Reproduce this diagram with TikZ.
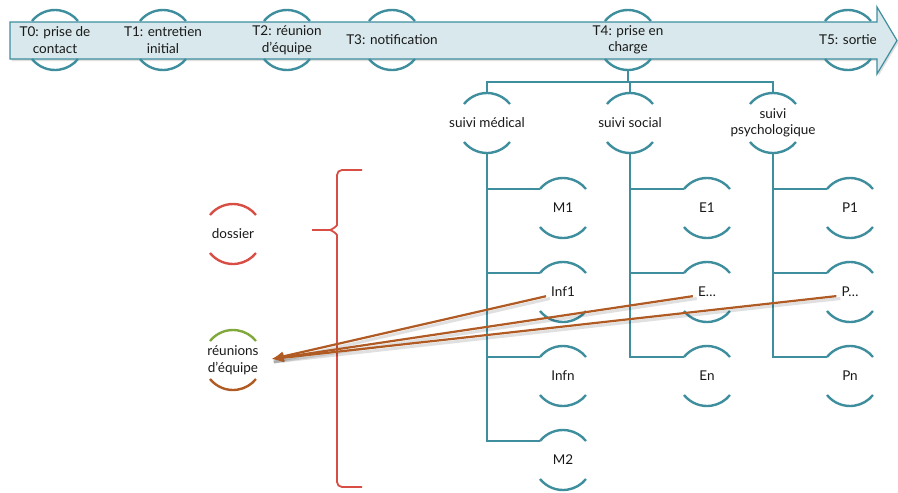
\documentclass[tikz,border=0pt]{standalone}
\usepackage{fontspec}
\setmainfont{Lato}
\usetikzlibrary{arrows.meta,shadows}

\definecolor{tealline}{RGB}{62,142,158}
\definecolor{bandfill}{RGB}{216,232,236}
\definecolor{redline}{RGB}{217,78,68}
\definecolor{greenline}{RGB}{128,168,58}
\definecolor{brownline}{RGB}{176,90,36}
\definecolor{inktext}{RGB}{25,25,25}

% two arcs round a label: top one and bottom one
\newcommand{\arcpair}[3]{%
	\draw[#2] ([shift={(-23,19)}]#1.center) arc[start angle=141.2, end angle=38.8, radius=29.5];
	\draw[#3] ([shift={(-23,-19)}]#1.center) arc[start angle=218.8, end angle=321.2, radius=29.5];
}

\begin{document}
\begin{tikzpicture}[x=1pt, y=1pt, >={Latex[length=12pt,width=10pt]},
	lbl/.style={font=\fontsize{13.5}{16.5}\selectfont, text=inktext, align=center, inner sep=1pt},
	arcline/.style={tealline, line width=2.4pt},
	redarc/.style={redline, line width=2.4pt},
	greenarc/.style={greenline, line width=2.4pt},
	brownarc/.style={brownline, line width=2.4pt},
	tree/.style={tealline, line width=2.4pt},
	band/.style={draw=tealline, fill=bandfill, line width=1.2pt,
		drop shadow={opacity=0.25, shadow xshift=1.5pt, shadow yshift=-2pt}},
	brace/.style={redline, line width=1.8pt, rounded corners=5pt},
	link/.style={->, brownline, line width=2.2pt, shorten <=1pt},
	linkshade/.style={black, opacity=0.12, line width=3pt}]

	\useasboundingbox (0,0) rectangle (898,-493);

	% === TIMELINE === (((
	\draw[band] (10,-22) -- (877,-22) -- (877,-7) -- (897,-40.5) -- (877,-74)
		-- (877,-59) -- (10,-59) -- cycle;
	\foreach \n/\x/\t in {t0/55/{T0: prise de\\contact}, t1/163/{T1: entretien\\initial},
		t2/287/{T2: réunion\\d'équipe}, t3/392/{T3: notification},
		t4/628/{T4: prise en\\charge}, t5/848/{T5: sortie}} {
		\node[lbl] (\n) at (\x,-40) {\t};
		\arcpair{\n}{arcline}{arcline}
	}
	% )))

	% === SUIVI === (((
	\foreach \n/\x/\t in {med/487/{suivi médical}, soc/630/{suivi social},
		psy/773/{suivi\\psychologique}} {
		\node[lbl] (\n) at (\x,-123) {\t};
		\arcpair{\n}{arcline}{arcline}
		\draw[tree] ([yshift=-30]t4.center) -- ++(0,-12) -| ([yshift=30]\n.center);
	}
	% )))

	% === ETAPES === (((
	\foreach \n/\r/\t in {m1/208/M1, inf1/292/Inf1, infn/376/Infn, m2/460/M2} {
		\node[lbl] (\n) at (563,-\r) {\t};
		\arcpair{\n}{arcline}{arcline}
		\draw[tree] ([yshift=-30]med.center) |- ([shift={(-23,19)}]\n.center);
	}
	\foreach \n/\r/\t in {e1/208/E1, edots/292/E…, en/376/En} {
		\node[lbl] (\n) at (707,-\r) {\t};
		\arcpair{\n}{arcline}{arcline}
		\draw[tree] ([yshift=-30]soc.center) |- ([shift={(-23,19)}]\n.center);
	}
	\foreach \n/\r/\t in {p1/208/P1, pdots/292/P…, pn/376/Pn} {
		\node[lbl] (\n) at (850,-\r) {\t};
		\arcpair{\n}{arcline}{arcline}
		\draw[tree] ([yshift=-30]psy.center) |- ([shift={(-23,19)}]\n.center);
	}
	% )))

	% === DOSSIER ET REUNIONS === (((
	\node[lbl] (dossier) at (233,-234) {dossier};
	\arcpair{dossier}{redarc}{redarc}
	\node[lbl] (reunions) at (233,-360) {réunions\\d'équipe};
	\arcpair{reunions}{greenarc}{brownarc}

	\draw[brace] (362,-170) -- (337,-170) -- (337,-220) to[out=-90,in=0] (325,-230) -- (312,-230);
	\draw[brace] (312,-230) -- (325,-230) to[out=0,in=90] (337,-240) -- (337,-487) -- (362,-487);
	% )))

	% === LIENS === (((
	\coordinate (meet) at ([xshift=12,yshift=1]reunions.east);
	\foreach \n in {inf1,edots,pdots} {
		\draw[linkshade] ([shift={(0,-6.5)}]\n.west) -- ([shift={(2,-3)}]meet);
		\draw[link] ([shift={(-3,-4)}]\n.west) -- (meet);
	}
	% )))

\end{tikzpicture}
\end{document}
